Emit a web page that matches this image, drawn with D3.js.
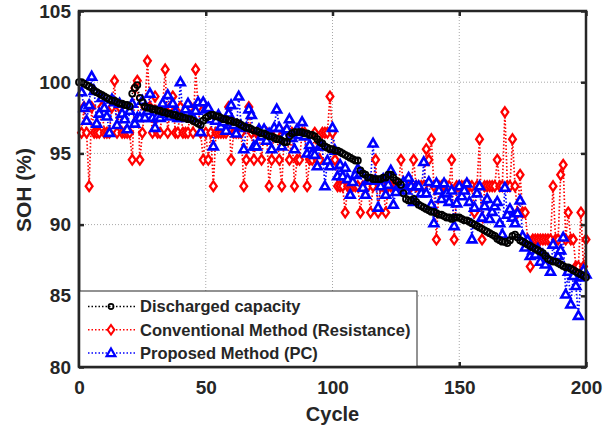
<!DOCTYPE html>
<html><head><meta charset="utf-8">
<script src="https://cdn.jsdelivr.net/npm/d3@7/dist/d3.min.js"></script>
<style>body{margin:0;background:#fff}svg{display:block}text{font-family:Arial,"Liberation Sans",sans-serif;font-weight:bold;fill:#262626}</style>
</head><body>
<svg id="c" width="608" height="429"></svg>
<script>
// cycle 0..200
const capacity = [100.0,100.0,99.9,99.8,99.7,99.6,99.4,99.3,99.2,99.1,
99.0,98.9,98.8,98.7,98.7,98.6,98.5,98.5,98.4,98.4,
98.3,99.2,99.6,99.8,98.9,98.6,98.3,98.2,98.2,98.1,
98.1,98.0,98.0,97.9,97.9,97.8,97.8,97.7,97.7,97.6,
97.6,97.5,97.5,97.4,97.4,97.3,97.2,97.1,97.0,97.3,
97.5,97.6,97.7,97.7,97.6,97.6,97.5,97.4,97.4,97.3,
97.3,97.2,97.2,97.1,97.0,96.9,96.8,96.8,96.7,96.6,
96.6,96.5,96.4,96.4,96.3,96.2,96.2,96.1,96.0,96.0,
95.9,95.8,95.8,96.2,96.4,96.5,96.5,96.5,96.5,96.4,
96.4,96.3,96.3,96.2,96.0,95.8,95.7,95.5,95.4,95.3,
95.3,95.2,95.2,95.1,95.0,94.9,94.8,94.7,94.6,94.5,
94.5,93.8,93.6,93.5,93.3,93.3,93.2,93.2,93.2,93.2,
93.3,93.3,93.5,93.5,93.3,93.1,93.0,92.8,92.2,91.8,
91.7,91.7,91.8,91.6,91.4,91.3,91.2,91.1,91.0,90.9,
90.9,90.8,90.7,90.7,90.6,90.5,90.5,90.4,90.5,90.5,
90.5,90.4,90.3,90.3,90.2,90.1,90.0,89.9,89.8,89.7,
89.6,89.5,89.4,89.3,89.2,89.0,88.9,88.8,88.8,88.7,
88.9,89.2,89.3,89.1,88.9,88.8,88.7,88.6,88.5,88.4,
88.3,88.2,88.1,88.0,87.8,87.6,87.5,87.4,87.4,87.3,
87.2,87.1,87.0,87.0,86.9,86.8,86.7,86.6,86.5,86.4,
86.3];
// cycle 1..200
const resistance = [96.45,98.25,96.45,92.7,98.25,96.45,96.45,96.45,98.25,96.45,
96.45,96.45,98.25,100.1,96.45,98.25,96.45,96.45,96.45,96.45,
94.55,99.6,100.1,94.55,96.45,98.25,101.5,98.25,96.45,99.0,
96.45,96.45,98.25,100.9,96.45,98.25,99.0,96.45,96.45,98.25,
96.45,96.45,96.45,98.25,96.45,100.9,98.25,96.45,94.55,96.45,
94.55,96.45,92.7,96.45,96.45,96.45,96.45,96.45,98.25,94.55,
96.45,96.45,96.45,96.45,92.7,94.55,98.25,96.45,94.55,96.45,
96.45,94.55,96.45,96.45,92.7,94.55,96.45,96.45,94.55,92.7,
96.45,96.45,94.55,96.45,92.7,94.55,94.55,96.45,96.45,92.7,
94.55,94.55,96.45,94.55,94.55,96.45,96.45,96.45,99.0,96.45,
94.55,92.7,92.7,92.7,90.85,92.7,92.7,92.7,92.7,92.7,
90.85,92.7,92.7,92.7,90.85,92.7,94.55,90.85,92.7,92.7,
90.85,92.7,92.7,92.7,92.7,92.7,94.55,92.7,92.7,92.7,
92.7,94.55,92.7,92.7,92.7,92.7,95.3,94.55,96.0,92.7,
88.95,92.7,92.7,92.7,92.7,92.7,94.55,88.95,92.7,92.7,
92.7,92.7,92.7,92.7,92.7,90.85,92.7,96.0,88.95,92.7,
92.7,92.7,92.7,92.7,94.55,92.7,92.7,97.9,92.7,92.7,
96.0,92.7,90.85,93.5,90.85,90.85,88.95,87.05,88.95,88.95,
88.95,88.95,88.95,88.95,88.95,88.95,92.7,88.95,88.95,93.5,
94.2,88.95,90.85,88.95,88.95,87.05,87.05,90.85,87.05,88.95];
// cycle 1..200
const proposed = [99.3,98.2,97.3,98.4,100.4,99.4,97.1,97.8,98.9,98.2,
97.6,96.45,98.8,98.6,97.0,98.5,97.8,97.4,96.7,98.0,
98.5,97.1,97.5,97.5,98.7,97.5,98.0,99.2,97.5,96.8,
97.6,97.5,98.5,97.8,99.1,97.6,98.5,97.9,97.5,100.0,
97.5,98.1,98.5,97.6,97.5,98.0,98.6,96.5,98.6,98.1,
98.2,97.4,95.5,97.3,97.7,96.9,97.2,96.6,97.8,98.4,
97.0,96.4,99.0,96.9,95.3,96.8,98.1,97.7,95.5,95.5,
96.7,96.2,96.7,95.9,96.4,95.3,96.8,98.1,96.8,95.5,
96.2,96.7,97.4,96.1,95.3,96.7,96.3,97.2,96.2,95.0,
95.6,95.0,94.9,94.1,95.5,95.5,92.7,94.5,94.1,96.8,
95.2,93.4,94.2,93.4,94.0,93.2,92.1,93.0,93.5,93.9,
93.6,92.6,92.1,93.1,93.1,95.7,93.1,91.2,92.7,93.2,
92.1,92.8,93.8,91.4,92.3,92.7,92.7,93.0,92.4,93.3,
92.7,91.6,92.7,92.7,92.2,94.4,92.2,93.0,91.4,90.1,
92.9,92.4,91.8,92.9,92.2,91.6,92.4,89.9,91.5,92.7,
92.0,92.4,92.9,91.6,88.97,91.2,92.2,92.7,90.5,91.3,
91.8,90.4,90.9,91.3,91.6,90.1,89.3,92.6,90.7,91.1,
90.5,90.1,90.8,91.7,89.2,88.4,88.9,87.8,88.2,87.9,
88.3,87.4,87.9,87.2,87.6,86.7,88.6,87.5,87.8,88.2,
89.1,85.1,86.7,84.4,86.4,85.7,83.6,86.3,86.8,86.5];
const xTicks = [0,50,100,150,200];
const yTicks = [80,85,90,95,100,105];
const legendLabels = ["Discharged capacity","Conventional Method (Resistance)","Proposed Method (PC)"];

const svg = d3.select("#c");
const L=79,R=586,T=11,B=367;
const x = d3.scaleLinear().domain([0,200]).range([L,R]);
const y = d3.scaleLinear().domain([80,105]).range([B,T]);

// grid
const grid = svg.append("g").attr("stroke","#a8a8a8").attr("stroke-width",1).attr("stroke-dasharray","1,2");
xTicks.slice(1,-1).forEach(t=>grid.append("line").attr("x1",x(t)).attr("x2",x(t)).attr("y1",T).attr("y2",B));
yTicks.slice(1,-1).forEach(t=>grid.append("line").attr("y1",y(t)).attr("y2",y(t)).attr("x1",L).attr("x2",R));

const capPts = capacity.map((v,i)=>[i,v]);
const resPts = resistance.map((v,i)=>[i+1,v]);
const pcPts = proposed.map((v,i)=>[i+1,v]);
const line = d3.line().x(d=>x(d[0])).y(d=>y(d[1]));

const diamond = "M0,-4.8L3.4,0L0,4.8L-3.4,0Z";
const tri = "M0,-4.6L4.4,3.1L-4.4,3.1Z";

function series(pts,color,w){
  svg.append("path").attr("d",line(pts)).attr("fill","none").attr("stroke",color)
    .attr("stroke-width",w).attr("stroke-dasharray","1.5,2");
}
series(resPts,"#ff0000",1.7);
series(pcPts,"#0000ff",1.7);
series(capPts,"#000000",1.4);

svg.append("g").selectAll("path").data(resPts).join("path")
  .attr("transform",d=>`translate(${x(d[0])},${y(d[1])})`).attr("d",diamond)
  .attr("fill","#fff").attr("stroke","#ff0000").attr("stroke-width",2.3);
svg.append("g").selectAll("path").data(pcPts).join("path")
  .attr("transform",d=>`translate(${x(d[0])},${y(d[1])})`).attr("d",tri)
  .attr("fill","#fff").attr("stroke","#0000ff").attr("stroke-width",2.6);
svg.append("g").selectAll("circle").data(capPts).join("circle")
  .attr("cx",d=>x(d[0])).attr("cy",d=>y(d[1])).attr("r",3)
  .attr("fill","none").attr("stroke","#000").attr("stroke-width",1.8);

// axes
const ax = svg.append("g").attr("transform",`translate(0,${B})`)
  .call(d3.axisBottom(x).tickValues(xTicks).tickSize(-5).tickPadding(14));
const ay = svg.append("g").attr("transform",`translate(${L},0)`)
  .call(d3.axisLeft(y).tickValues(yTicks).tickSize(-5).tickPadding(8));
const at = svg.append("g").attr("transform",`translate(0,${T})`)
  .call(d3.axisTop(x).tickValues(xTicks).tickSize(-5).tickFormat(""));
const ar = svg.append("g").attr("transform",`translate(${R},0)`)
  .call(d3.axisRight(y).tickValues(yTicks).tickSize(-5).tickFormat(""));
[ax,ay,at,ar].forEach(g=>{
  g.select(".domain").remove();
  g.selectAll("line").attr("stroke","#262626").attr("stroke-width",2.5);
  g.selectAll("text").attr("font-size",19).attr("font-family",'Arial,"Liberation Sans",sans-serif').attr("font-weight","bold").attr("fill","#262626");
});
svg.append("rect").attr("x",L).attr("y",T).attr("width",R-L).attr("height",B-T)
  .attr("fill","none").attr("stroke","#262626").attr("stroke-width",2.5);

svg.append("text").attr("x",(L+R)/2).attr("y",421).attr("text-anchor","middle").attr("font-size",20).text("Cycle");
svg.append("text").attr("transform","translate(31,190) rotate(-90)").attr("text-anchor","middle").attr("font-size",21).text("SOH (%)");

// legend
const lg = svg.append("g");
lg.append("rect").attr("x",L).attr("y",291).attr("width",338).attr("height",B-291)
  .attr("fill","#fff").attr("stroke","#262626").attr("stroke-width",1);
const legColors = ["#000000","#ff0000","#0000ff"];
legendLabels.forEach((lab,i)=>{
  const yy = 306.5 + i*23.3;
  lg.append("line").attr("x1",88).attr("x2",137).attr("y1",yy).attr("y2",yy)
    .attr("stroke",legColors[i]).attr("stroke-width",1.5).attr("stroke-dasharray","1.5,2");
  if(i===0) lg.append("circle").attr("cx",111).attr("cy",yy).attr("r",2.6).attr("fill","none").attr("stroke","#000").attr("stroke-width",1.6);
  if(i===1) lg.append("path").attr("transform",`translate(111,${yy})`).attr("d",diamond).attr("fill","#fff").attr("stroke","#ff0000").attr("stroke-width",2);
  if(i===2) lg.append("path").attr("transform",`translate(111,${yy})`).attr("d",tri).attr("fill","#fff").attr("stroke","#0000ff").attr("stroke-width",2.2);
  lg.append("text").attr("x",140).attr("y",yy).attr("dy","0.36em").attr("font-size",16.5).text(lab);
});
// re-draw left/bottom axis edges over legend box
svg.append("line").attr("x1",L).attr("x2",L).attr("y1",T).attr("y2",B).attr("stroke","#262626").attr("stroke-width",2.5);
svg.append("line").attr("x1",L).attr("x2",R).attr("y1",B).attr("y2",B).attr("stroke","#262626").attr("stroke-width",2.5);
</script>
</body></html>
